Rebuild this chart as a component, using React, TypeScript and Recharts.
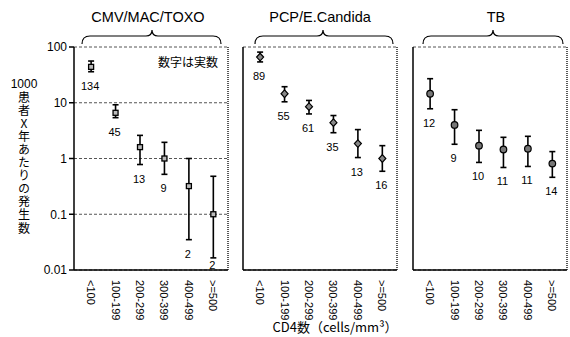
import React from 'react';
import { ScatterChart, Scatter, XAxis, YAxis, CartesianGrid, ErrorBar, ReferenceLine } from 'recharts';

const categories = ['<100', '100-199', '200-299', '300-399', '400-499', '>=500'];
const yTicks = [0.01, 0.1, 1, 10, 100];
const panelTitles = ['CMV/MAC/TOXO', 'PCP/E.Candida', 'TB'];
const noteText = '数字は実数';
const yLabelTop = '1000';
const yLabelRest = '患者X年あたりの発生数';
const xLabel = 'CD4数（cells/mm³）';

const cmvRate = [44, 6.6, 1.6, 1.0, 0.32, 0.1];
const cmvLow = [36, 5.4, 0.78, 0.52, 0.035, 0.0165];
const cmvHigh = [56, 9.2, 2.6, 1.95, 1.0, 0.48];
const cmvCount = [134, 45, 13, 9, 2, 2];

const pcpRate = [66, 14.5, 8.5, 4.4, 1.85, 1.0];
const pcpLow = [54, 10.4, 6.3, 2.9, 1.04, 0.59];
const pcpHigh = [81, 19.4, 11, 5.9, 3.3, 1.7];
const pcpCount = [89, 55, 61, 35, 13, 16];

const tbRate = [14.5, 4.0, 1.7, 1.45, 1.5, 0.81];
const tbLow = [7.8, 1.8, 0.85, 0.69, 0.72, 0.46];
const tbHigh = [27, 7.5, 3.2, 2.4, 2.5, 1.33];
const tbCount = [12, 9, 10, 11, 11, 14];

const FONT = '"Liberation Sans", Arial, "Noto Sans CJK JP", sans-serif';
const JFONT = '"Noto Sans CJK JP", "Liberation Sans", sans-serif';

const PLOT_W = 154;
const TOP = 47;
const H = 337;
const X_AXIS_H = 60;
const BOTTOM_M = 7;
const PLOT_BOTTOM = H - BOTTOM_M - X_AXIS_H;

const SquareMark = (p: any) => (
  <rect x={p.cx - 2.5} y={p.cy - 2.5} width={5} height={5} fill="#bbb" stroke="#000" strokeWidth={1.3} />
);
const DiamondMark = (p: any) => (
  <polygon
    points={`${p.cx},${p.cy - 3.8} ${p.cx + 3.5},${p.cy} ${p.cx},${p.cy + 3.8} ${p.cx - 3.5},${p.cy}`}
    fill="#888"
    stroke="#000"
    strokeWidth={1.2}
  />
);
const CircleMark = (p: any) => (
  <circle cx={p.cx} cy={p.cy} r={3.3} fill="#777" stroke="#000" strokeWidth={1.2} />
);

const CountLabel = (p: any) => (
  <text
    x={p.cx - 1}
    y={Math.min(p.cy + 14, PLOT_BOTTOM - 5)}
    textAnchor="middle"
    dominantBaseline="central"
    fontSize={11}
    fontFamily={FONT}
    fill="#000"
  >
    {p.payload.count}
  </text>
);

const XTick = (p: any) => (
  <text
    transform={`translate(${p.x},${p.y + 2}) rotate(90)`}
    textAnchor="start"
    dominantBaseline="central"
    fontSize={11}
    fontFamily={FONT}
    fill="#000"
  >
    {categories[p.payload.value]}
  </text>
);

function Panel(props: any) {
  const { plotLeft, rate, low, high, count, shape, showY, rightM } = props;
  const yW = showY ? 60 : 6;
  const leftM = showY ? plotLeft - yW : 0;
  const chartLeft = showY ? 0 : plotLeft - yW;
  const width = leftM + yW + PLOT_W + rightM;
  const data = categories.map((c, i) => ({
    x: i,
    y: rate[i],
    err: [rate[i] - low[i], high[i] - rate[i]],
  }));
  const labelData = categories.map((c, i) => ({ x: i, y: low[i], count: count[i] }));
  return (
    <div style={{ position: 'absolute', left: chartLeft, top: 0 }}>
      <ScatterChart width={width} height={H} margin={{ top: TOP, right: rightM, bottom: BOTTOM_M, left: leftM }}>
        <CartesianGrid horizontal vertical={false} stroke="#555" strokeDasharray="3 2" />
        <XAxis
          type="number"
          dataKey="x"
          domain={[-0.7, 5.6]}
          ticks={[0, 1, 2, 3, 4, 5]}
          allowDataOverflow
          height={X_AXIS_H}
          tickLine={false}
          tick={<XTick />}
          interval={0}
          stroke="#000"
          strokeWidth={1.5}
        />
        <YAxis
          type="number"
          dataKey="y"
          scale="log"
          domain={[0.01, 100]}
          ticks={yTicks}
          allowDataOverflow
          width={yW}
          tickSize={5}
          tick={showY ? { fontSize: 12, fill: '#000', fontFamily: FONT } : false}
          tickFormatter={(v: number) => String(v)}
          stroke="#000"
          strokeWidth={1.5}
        />
        <ReferenceLine x={5.6} stroke="#222" strokeWidth={1.5} strokeDasharray="1 1" ifOverflow="visible" />
        <Scatter data={data} shape={shape} isAnimationActive={false}>
          <ErrorBar dataKey="err" direction="y" width={3} stroke="#000" strokeWidth={1.6} />
        </Scatter>
        <Scatter data={labelData} shape={<CountLabel />} isAnimationActive={false} />
      </ScatterChart>
    </div>
  );
}

const Brace = ({ x1, x2, tip }: any) => {
  const yTop = 30;
  const yMid = 36;
  const yEnd = 44;
  const d = `M${x1},${yEnd} Q${x1},${yMid} ${x1 + 8},${yMid} L${tip - 6},${yMid} Q${tip},${yMid} ${tip},${yTop} Q${tip},${yMid} ${tip + 6},${yMid} L${x2 - 8},${yMid} Q${x2},${yMid} ${x2},${yEnd}`;
  return <path d={d} fill="none" stroke="#000" strokeWidth={1.2} />;
};

export default function App() {
  return (
    <div style={{ position: 'absolute', left: 0, top: 0, width: 570, height: 337, background: '#fff', overflow: 'hidden' }}>
      <Panel plotLeft={74} rate={cmvRate} low={cmvLow} high={cmvHigh} count={cmvCount} shape={<SquareMark />} showY rightM={4} />
      <Panel plotLeft={243} rate={pcpRate} low={pcpLow} high={pcpHigh} count={pcpCount} shape={<DiamondMark />} showY={false} rightM={4} />
      <Panel plotLeft={413} rate={tbRate} low={tbLow} high={tbHigh} count={tbCount} shape={<CircleMark />} showY={false} rightM={3} />
      <svg width={570} height={337} style={{ position: 'absolute', left: 0, top: 0, pointerEvents: 'none' }}>
        <text x={148} y={22} textAnchor="middle" fontSize={14.5} fontFamily={FONT}>{panelTitles[0]}</text>
        <text x={320} y={22} textAnchor="middle" fontSize={14.5} fontFamily={FONT}>{panelTitles[1]}</text>
        <text x={496} y={22} textAnchor="middle" fontSize={14.5} fontFamily={FONT}>{panelTitles[2]}</text>
        <Brace x1={82} x2={221} tip={152} />
        <Brace x1={255} x2={393} tip={323} />
        <Brace x1={423} x2={563} tip={493} />
        <text x={188} y={67} textAnchor="middle" fontSize={12} fontFamily={JFONT}>{noteText}</text>
        <text x={24} y={88} textAnchor="middle" fontSize={12} fontFamily={FONT}>{yLabelTop}</text>
        <text
          x={24}
          y={91}
          fontSize={12}
          fontFamily={JFONT}
          style={{ writingMode: 'vertical-rl', textOrientation: 'upright', letterSpacing: '1.1px' }}
        >
          {yLabelRest}
        </text>
        <text x={335} y={332} textAnchor="middle" fontSize={13} fontFamily={JFONT}>{xLabel}</text>
      </svg>
    </div>
  );
}
